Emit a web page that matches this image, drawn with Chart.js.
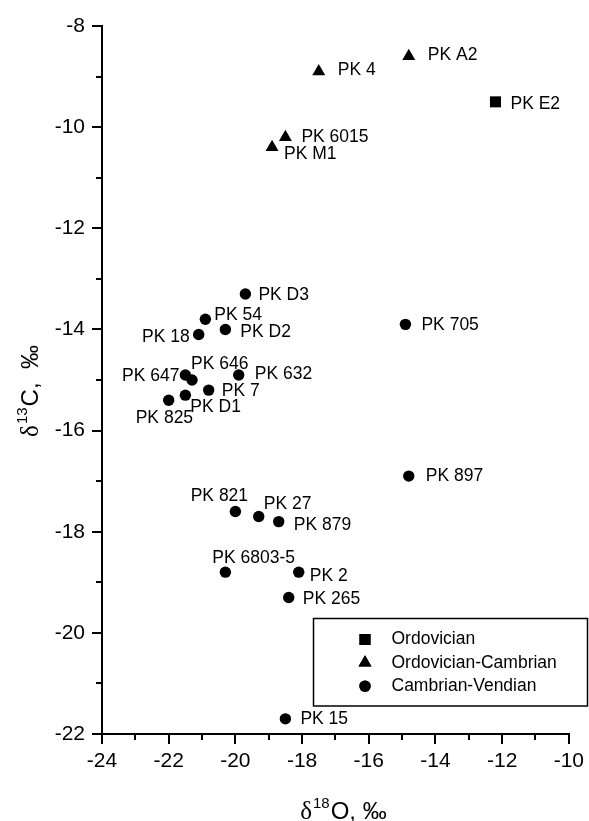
<!DOCTYPE html>
<html>
<head>
<meta charset="utf-8">
<title>Isotope cross-plot</title>
<script src="https://cdn.jsdelivr.net/npm/chart.js@4.4.1/dist/chart.umd.min.js"></script>
<style>
  html, body { margin: 0; padding: 0; background: #fff; }
  #wrap { width: 589px; height: 821px; position: relative; }
</style>
</head>
<body>
<div id="wrap"><canvas id="isoChart"></canvas></div>
<script>
// Samples grouped by age: names, d18O and d13C (per mil)
const ordovicianNames = ['PK E2'];
const ordovicianO18 = [-12.2];
const ordovicianC13 = [-9.5];

const ordCambNames = ['PK A2', 'PK 4', 'PK 6015', 'PK M1'];
const ordCambO18 = [-14.8, -17.5, -18.5, -18.9];
const ordCambC13 = [-8.6, -8.9, -10.2, -10.4];

const cambVendNames = ['PK D3', 'PK 54', 'PK D2', 'PK 18', 'PK 705', 'PK 647', 'PK 646',
    'PK 632', 'PK 7', 'PK D1', 'PK 825', 'PK 897', 'PK 821', 'PK 27', 'PK 879',
    'PK 6803-5', 'PK 2', 'PK 265', 'PK 15'];
const cambVendO18 = [-19.7, -20.9, -20.3, -21.1, -14.9, -21.5, -21.3,
    -19.9, -20.8, -21.5, -22.0, -14.8, -20.0, -19.3, -18.7,
    -20.3, -18.1, -18.4, -18.5];
const cambVendC13 = [-13.3, -13.8, -14.0, -14.1, -13.9, -14.9, -15.0,
    -14.9, -15.2, -15.3, -15.4, -16.9, -17.6, -17.7, -17.8,
    -18.8, -18.8, -19.3, -21.7];

const xTicks = [-24, -22, -20, -18, -16, -14, -12, -10];
const yTicks = [-22, -20, -18, -16, -14, -12, -10, -8];
const xMinor = [-23, -21, -19, -17, -15, -13, -11];
const yMinor = [-21, -19, -17, -15, -13, -11, -9];

const legendNames = ['Ordovician', 'Ordovician-Cambrian', 'Cambrian-Vendian'];

// where each sample name sits relative to its marker: [dx, dy, align]
const labelPos = {
    'PK E2': [15, 2], 'PK A2': [19, -1], 'PK 4': [19, -1], 'PK 6015': [16, 0], 'PK M1': [12, 7],
    'PK D3': [13, 1], 'PK 54': [9, -4], 'PK D2': [15, 3], 'PK 18': [-9, 3, 'right'],
    'PK 705': [16, 1], 'PK 647': [-6, 1, 'right'], 'PK 646': [-1, -16], 'PK 632': [16, -1],
    'PK 7': [13, 1], 'PK D1': [5, 12], 'PK 825': [-33, 18], 'PK 897': [17, 0],
    'PK 821': [-16, -15, 'center'], 'PK 27': [5, -12], 'PK 879': [15, 3.5],
    'PK 6803-5': [-13, -14], 'PK 2': [11, 4], 'PK 265': [14, 2], 'PK 15': [15, 0]
};

const SANS = 'Arial, "Liberation Sans", sans-serif';

function toPoints(xs, ys) {
    return xs.map((x, i) => ({ x: x, y: ys[i] }));
}

// sample names next to markers
const pointLabels = {
    id: 'pointLabels',
    afterDatasetsDraw(chart) {
        const ctx = chart.ctx;
        ctx.save();
        ctx.font = '17.5px ' + SANS;
        ctx.fillStyle = '#000';
        ctx.textBaseline = 'middle';
        chart.data.datasets.forEach((ds, i) => {
            chart.getDatasetMeta(i).data.forEach((pt, j) => {
                const name = ds.names[j];
                const p = labelPos[name] || [12, 0];
                ctx.textAlign = p[2] || 'left';
                ctx.fillText(name, pt.x + p[0], pt.y + p[1]);
            });
        });
        ctx.restore();
    }
};

// short ticks between the labelled ones
const minorTicks = {
    id: 'minorTicks',
    afterDraw(chart) {
        const ctx = chart.ctx;
        const xs = chart.scales.x, ys = chart.scales.y;
        const area = chart.chartArea;
        ctx.save();
        ctx.strokeStyle = '#000';
        ctx.lineWidth = 2;
        ctx.beginPath();
        xMinor.forEach(v => {
            const px = Math.round(xs.getPixelForValue(v));
            ctx.moveTo(px, area.bottom);
            ctx.lineTo(px, area.bottom + 6);
        });
        yMinor.forEach(v => {
            const py = Math.round(ys.getPixelForValue(v));
            ctx.moveTo(area.left, py);
            ctx.lineTo(area.left - 6, py);
        });
        ctx.stroke();
        ctx.restore();
    }
};

function drawIsoTitle(ctx, cx, baseY, iso, rest) {
    const bigFont = '24px ' + SANS;
    const deltaFont = '25px "Liberation Serif", "DejaVu Serif", serif';
    const supFont = '15px ' + SANS;
    ctx.font = deltaFont; const w1 = ctx.measureText('\u03b4').width;
    ctx.font = supFont; const w2 = ctx.measureText(iso).width;
    ctx.font = bigFont; const w3 = ctx.measureText(rest).width;
    let x = cx - (w1 + w2 + w3 + 2) / 2;
    ctx.textAlign = 'left';
    ctx.textBaseline = 'alphabetic';
    ctx.font = deltaFont; ctx.fillText('\u03b4', x, baseY); x += w1 + 1;
    ctx.font = supFont; ctx.fillText(iso, x, baseY - 11); x += w2 + 1;
    ctx.font = bigFont; ctx.fillText(rest, x, baseY);
}

const axisTitles = {
    id: 'axisTitles',
    afterDraw(chart) {
        const ctx = chart.ctx;
        const area = chart.chartArea;
        ctx.save();
        ctx.fillStyle = '#000';
        drawIsoTitle(ctx, (area.left + area.right) / 2 + 8, 819, '18', 'O, \u2030');
        ctx.translate(38, (area.top + area.bottom) / 2 + 11);
        ctx.rotate(-Math.PI / 2);
        drawIsoTitle(ctx, 0, 0, '13', 'C,  \u2030');
        ctx.restore();
    }
};

// boxed legend in the lower right corner
const boxLegend = {
    id: 'boxLegend',
    afterDraw(chart) {
        const ctx = chart.ctx;
        const box = { x: 313.5, y: 618.5, w: 274, h: 87.5 };
        ctx.save();
        ctx.fillStyle = '#fff';
        ctx.fillRect(box.x, box.y, box.w, box.h);
        ctx.strokeStyle = '#000';
        ctx.lineWidth = 1.5;
        ctx.strokeRect(box.x, box.y, box.w, box.h);
        ctx.fillStyle = '#000';
        ctx.font = '17.5px ' + SANS;
        ctx.textAlign = 'left';
        ctx.textBaseline = 'middle';
        chart.data.datasets.forEach((ds, i) => {
            const my = box.y + 21 + i * 23.3;
            const mx = 365;
            Chart.helpers.drawPoint(ctx, {
                pointStyle: ds.pointStyle,
                radius: ds.pointRadius,
                rotation: 0,
                borderWidth: 0
            }, mx, my);
            ctx.fill();
            ctx.fillText(legendNames[i], 391.5, my);
        });
        ctx.restore();
    }
};

const ctx = document.getElementById('isoChart');
new Chart(ctx, {
    type: 'scatter',
    data: {
        datasets: [{
            label: legendNames[0],
            names: ordovicianNames,
            data: toPoints(ordovicianO18, ordovicianC13),
            pointStyle: 'rect',
            pointRadius: 7.8,
            backgroundColor: '#000',
            borderWidth: 0,
            clip: false
        }, {
            label: legendNames[1],
            names: ordCambNames,
            data: toPoints(ordCambO18, ordCambC13),
            pointStyle: 'triangle',
            pointRadius: 7.5,
            backgroundColor: '#000',
            borderWidth: 0,
            clip: false
        }, {
            label: legendNames[2],
            names: cambVendNames,
            data: toPoints(cambVendO18, cambVendC13),
            pointStyle: 'circle',
            pointRadius: 5.7,
            backgroundColor: '#000',
            borderWidth: 0,
            clip: false
        }]
    },
    options: {
        responsive: true,
        maintainAspectRatio: false,
        animation: false,
        events: [],
        layout: { padding: { left: 0, top: 26, right: 18, bottom: 0 } },
        plugins: {
            legend: { display: false },
            tooltip: { enabled: false }
        },
        scales: {
            x: {
                type: 'linear',
                min: -24,
                max: -10,
                afterBuildTicks: s => { s.ticks = xTicks.map(v => ({ value: v })); },
                afterFit: s => { s.height = 87; },
                border: { display: true, color: '#000', width: 2 },
                grid: { drawOnChartArea: false, drawTicks: true, tickLength: 10, color: '#000', lineWidth: 2 },
                ticks: { color: '#000', font: { family: SANS, size: 21 }, padding: 5, maxRotation: 0 }
            },
            y: {
                type: 'linear',
                min: -22,
                max: -8,
                afterBuildTicks: s => { s.ticks = yTicks.map(v => ({ value: v })); },
                afterFit: s => { s.width = 102; },
                border: { display: true, color: '#000', width: 2 },
                grid: { drawOnChartArea: false, drawTicks: true, tickLength: 10, color: '#000', lineWidth: 2 },
                ticks: { color: '#000', font: { family: SANS, size: 21 }, padding: 7 }
            }
        }
    },
    plugins: [pointLabels, minorTicks, axisTitles, boxLegend]
});
</script>
</body>
</html>
